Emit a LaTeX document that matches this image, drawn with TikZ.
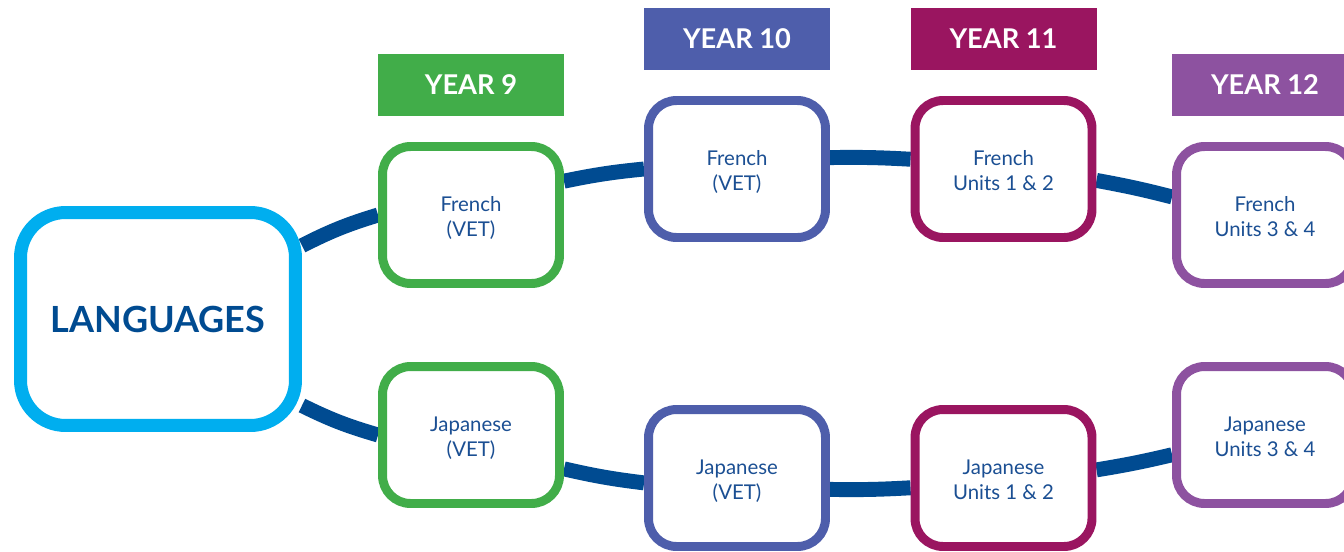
\documentclass[tikz,border=0pt]{standalone}
\usepackage{fontspec}
\setmainfont{Lato}
\usetikzlibrary{positioning, backgrounds}

\definecolor{langcyan}{HTML}{00AEEF}
\definecolor{green9}{HTML}{41AD49}
\definecolor{blue10}{HTML}{4E5EAB}
\definecolor{red11}{HTML}{9A1560}
\definecolor{purple12}{HTML}{8D52A0}
\definecolor{linkblue}{HTML}{004B91}
\definecolor{txtblue}{HTML}{1B4F93}

% duas linhas de texto na caixa
\newcommand{\boxtxt}[2]{\raisebox{0pt}[\dimexpr\height+5pt\relax][\depth]{\begin{tabular}{@{}c@{}}#1\\#2\end{tabular}}}

\begin{document}
\begin{tikzpicture}[x=0.02cm, y=-0.02cm,
	langbox/.style={rectangle, minimum width=5.5cm, minimum height=4.26cm, rounded corners=0.9cm, line width=7.4pt, draw=langcyan, fill=white, text=linkblue, font=\fontsize{20.5}{22}\selectfont\bfseries},
	yearbox/.style={rectangle, minimum width=3.54cm, minimum height=2.74cm, rounded corners=0.56cm, line width=5.1pt, draw=#1, fill=white, text=txtblue, font=\fontsize{11.6}{14.2}\selectfont},
	yeartag/.style={rectangle, minimum width=3.72cm, minimum height=1.24cm, fill=#1, text=white, font=\fontsize{15.5}{17}\selectfont\bfseries},
	link/.style={line width=8.5pt, draw=linkblue}]
		
		\useasboundingbox (0,0) rectangle (1344,551);
		\clip (0,0) rectangle (1344,551);
		
		% languages
		\node[langbox] (lang) at (158,319) {LANGUAGES};
		
		% year 9
		\node[yeartag=green9] (y9) at (471,85) {YEAR 9};
		\node[yearbox=green9] (fr9) at (471,215) {\boxtxt{French}{(VET)}};
		\node[yearbox=green9] (ja9) at (471,435) {\boxtxt{Japanese}{(VET)}};
		
		% year 10
		\node[yeartag=blue10] (y10) at (737,39) {YEAR 10};
		\node[yearbox=blue10] (fr10) at (737,169) {\boxtxt{French}{(VET)}};
		\node[yearbox=blue10] (ja10) at (737,478) {\boxtxt{Japanese}{(VET)}};
		
		% year 11
		\node[yeartag=red11] (y11) at (1003.5,39) {YEAR 11};
		\node[yearbox=red11] (fr11) at (1003.5,169) {\boxtxt{French}{Units 1 \& 2}};
		\node[yearbox=red11] (ja11) at (1003.5,478) {\boxtxt{Japanese}{Units 1 \& 2}};
		
		% year 12
		\node[yeartag=purple12] (y12) at (1265,85) {YEAR 12};
		\node[yearbox=purple12] (fr12) at (1265,215) {\boxtxt{French}{Units 3 \& 4}};
		\node[yearbox=purple12] (ja12) at (1265,435) {\boxtxt{Japanese}{Units 3 \& 4}};
		
		% linhas
		\begin{scope}[on background layer]
		\draw[link] (lang.27) to[bend left=5] (fr9.west);
		\draw[link] (fr9.20) to[bend left=3] (fr10.west);
		\draw[link] (fr10.7) to[bend left=2] (fr11.174);
		\draw[link] (fr11.-7) to[bend left=2] (fr12.169);
		
		\draw[link] (lang.-31) to[bend right=5] (ja9.west);
		\draw[link] (ja9.-20) to[bend right=3] (ja10.183);
		\draw[link] (ja10.-7) to[bend right=2] (ja11.186);
		\draw[link] (ja11.5) to[bend right=2] (ja12.192);
		\end{scope}
\end{tikzpicture}
\end{document}
